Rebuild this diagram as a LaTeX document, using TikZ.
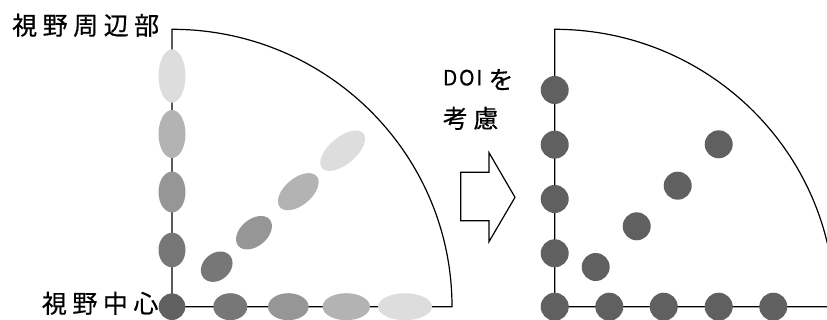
\documentclass[tikz,border=0pt]{standalone}
\usepackage{fontspec}
\usetikzlibrary{shapes.geometric}
\newfontfamily\jpls[LetterSpace=22,FakeBold=0.4]{Noto Sans CJK JP}
\newfontfamily\jplat[LetterSpace=8,FakeBold=0.4]{Noto Sans CJK JP}
\definecolor{c0}{HTML}{606060}
\definecolor{c1}{HTML}{777777}
\definecolor{c2}{HTML}{969696}
\definecolor{c3}{HTML}{B3B3B3}
\definecolor{c4}{HTML}{DDDDDD}
\begin{document}
\begin{tikzpicture}[x=1pt,y=-1pt,
  axisline/.style={draw=black,line width=1.2pt},
  lbl/.style={inner sep=0pt,anchor=west,font=\jpls\fontsize{25}{25}\selectfont},
  lbllat/.style={inner sep=0pt,anchor=west,font=\jplat\fontsize{21}{21}\selectfont},
  ell/.style={ellipse,inner sep=0pt,draw=none,minimum height=27pt},
  dot/.style={circle,inner sep=0pt,draw=none,fill=c0,minimum size=28pt},
  blockarrow/.style={draw=black,line width=1.2pt,fill=white,line join=miter}]
\useasboundingbox (0,0) rectangle (827,320);
\clip (0,0) rectangle (827,320);
% ---------- left panel ----------
\coordinate (L0) at (172,306.7);
\coordinate (Ltop) at (172,29.3);
\coordinate (Lright) at (452,306.7);
\draw[axisline] (L0) -- (Ltop) arc[start angle=90,end angle=0,x radius=280pt,y radius=277.4pt] -- (L0);
% vertical ellipses
\node[ell,fill=c1,rotate=90,minimum width=34.6pt] (lv1) at (172,250) {};
\node[ell,fill=c2,rotate=90,minimum width=41pt] (lv2) at (172,192) {};
\node[ell,fill=c3,rotate=90,minimum width=48pt] (lv3) at (172,134) {};
\node[ell,fill=c4,rotate=90,minimum width=53.4pt] (lv4) at (172,76) {};
% horizontal ellipses
\node[ell,fill=c1,minimum width=34pt] (lh1) at (230.3,306.7) {};
\node[ell,fill=c2,minimum width=40.6pt] (lh2) at (288.3,306.7) {};
\node[ell,fill=c3,minimum width=47.4pt] (lh3) at (346.3,306.7) {};
\node[ell,fill=c4,minimum width=54pt] (lh4) at (405,306.7) {};
% diagonal ellipses
\node[ell,fill=c1,rotate=40,minimum width=34.6pt] (ld1) at (216.7,266.7) {};
\node[ell,fill=c2,rotate=40,minimum width=41pt] (ld2) at (254,232.7) {};
\node[ell,fill=c3,rotate=40,minimum width=48pt] (ld3) at (298.3,191.7) {};
\node[ell,fill=c4,rotate=40,minimum width=54pt] (ld4) at (342.7,150.7) {};
% origin
\node[circle,inner sep=0pt,fill=c0,minimum size=26.6pt] (lo) at (L0) {};
% labels
\node[lbl] (tperi) at (12,25.3) {視野周辺部};
\node[lbl] (tcent) at (41.7,303.3) {視野中心};
% ---------- arrow ----------
\draw[blockarrow] (460.7,172.3) coordinate (a1) -- (489,172.3) coordinate (a2) -- (489,152.7) coordinate (a3)
  -- (515,197.3) coordinate (a4) -- (489,241.7) coordinate (a5) -- (489,220.7) coordinate (a6)
  -- (460.7,220.7) coordinate (a7) -- cycle;
\node[lbllat] (tdoi) at (442.7,77.7) {DOI};
\node[lbl] (two) at (488.3,79.5) {を};
\node[lbl] (tko) at (442.7,118.3) {考慮};
% ---------- right panel ----------
\coordinate (R0) at (554.7,306.7);
\coordinate (Rtop) at (554.7,29.3);
\coordinate (Rright) at (840,306.7);
\draw[axisline] (Rright) -- (R0) -- (Rtop) arc[start angle=90,end angle=0,x radius=280pt,y radius=277.4pt];
\node[dot] (ro) at (R0) {};
\node[dot] (rv1) at (554.7,253.3) {};
\node[dot] (rv2) at (554.7,199) {};
\node[dot] (rv3) at (554.7,144.7) {};
\node[dot] (rv4) at (554.7,90) {};
\node[dot] (rh1) at (609.3,306.7) {};
\node[dot] (rh2) at (663.7,306.7) {};
\node[dot] (rh3) at (718.7,306.7) {};
\node[dot] (rh4) at (773.3,306.7) {};
\node[dot] (rd1) at (595.7,267) {};
\node[dot] (rd2) at (636.7,226.3) {};
\node[dot] (rd3) at (677.7,185.7) {};
\node[dot] (rd4) at (718.7,144.3) {};
\end{tikzpicture}
\end{document}
